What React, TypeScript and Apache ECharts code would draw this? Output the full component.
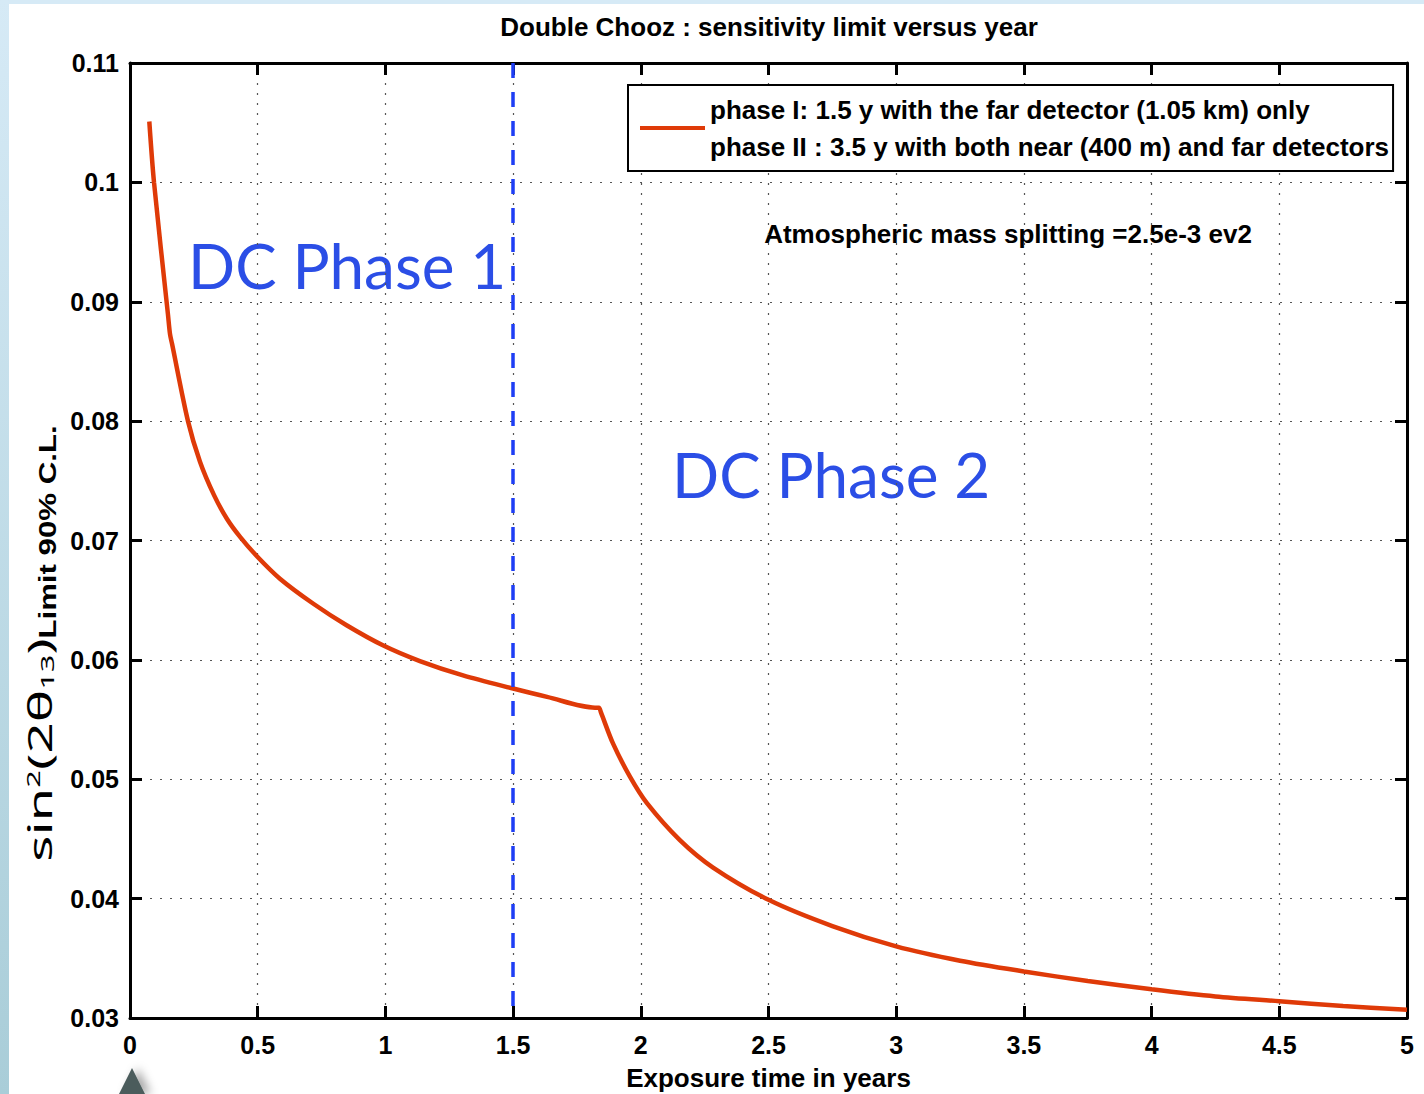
import React, { useEffect, useRef } from "react";
import * as echarts from "echarts";

// ---- data ----
const years = [
  0.0756, 0.094, 0.1488, 0.1566, 0.1644, 0.227, 0.274, 0.329, 0.38, 0.431, 0.496, 0.587,
  0.718, 0.848, 0.992, 1.135, 1.304, 1.5, 1.633, 1.8207, 1.836, 1.844, 1.891, 1.958, 2.024,
  2.153, 2.283, 2.5, 2.75, 3.0, 3.25, 3.5, 3.75, 4.0, 4.25, 4.5, 4.75, 5.0,
];
const limits = [
  0.1051, 0.1, 0.0889, 0.0873, 0.0865, 0.08, 0.0766, 0.0738, 0.0718, 0.0703, 0.0687, 0.0668,
  0.0647, 0.0629, 0.0612, 0.0599, 0.0587, 0.0576, 0.0569, 0.056, 0.056, 0.0556, 0.053, 0.0502,
  0.048, 0.0449, 0.0426, 0.0399, 0.0377, 0.036, 0.0348, 0.0339, 0.0331, 0.0324, 0.0318,
  0.0314, 0.031, 0.0307,
];
const phaseBoundary = 1.5;
const xMin = 0;
const xMax = 5;
const xStep = 0.5;
const yMin = 0.03;
const yMax = 0.11;
const yStep = 0.01;

const titleText = "Double Chooz : sensitivity limit versus year";
const legendLines = [
  "phase I: 1.5 y with the far detector (1.05 km) only",
  "phase II : 3.5 y with both near (400 m) and far detectors",
];
const seriesName = "sensitivity";
const annotationText = "Atmospheric mass splitting =2.5e-3 ev2";
const phaseLabels = ["DC Phase 1", "DC Phase 2"];
const xName = "Exposure time in years";
const yName = "Limit 90% C.L.";

const FONT = "'Liberation Sans', Arial, Helvetica, sans-serif";
const RED = "#df3a08";
const BLUE = "#2b4ee6";

export default function App() {
  const ref = useRef<HTMLDivElement>(null);

  useEffect(() => {
    document.body.style.margin = "0";
    const chart = echarts.init(ref.current!, null, { renderer: "svg" });

    const axisLine = { show: true, onZero: false, lineStyle: { color: "#000", width: 3 } };
    const axisTick = { show: true, inside: true, length: 12, lineStyle: { color: "#000", width: 3 } };
    const gridLine = { show: true, lineStyle: { color: "#555", width: 1.2, type: [2, 8] } };
    const labelStyle = { color: "#000", fontFamily: FONT, fontWeight: "bold", fontSize: 25 };

    const option: any = {
      animation: false,
      backgroundColor: "#fff",
      title: {
        text: titleText,
        left: 769,
        top: 14,
        padding: 0,
        textAlign: "center",
        textStyle: { fontFamily: FONT, fontWeight: "bold", fontSize: 26, color: "#000" },
      },
      grid: { left: 130, right: 17, top: 63, bottom: 76, containLabel: false, outerBoundsMode: "none" },
      legend: {
        left: 628,
        top: 85,
        orient: "vertical",
        data: [{ name: seriesName, icon: "rect" }],
        itemWidth: 65,
        itemHeight: 4,
        padding: [6, 4, 6, 12],
        borderColor: "#000",
        borderWidth: 2,
        backgroundColor: "#fff",
        selectedMode: false,
        formatter: () => legendLines.join("\n"),
        textStyle: { fontFamily: FONT, fontWeight: "bold", fontSize: 26, lineHeight: 37, color: "#000" },
      },
      xAxis: [
        {
          type: "value",
          position: "bottom",
          min: xMin,
          max: xMax,
          interval: xStep,
          axisLine,
          axisTick,
          splitLine: gridLine,
          axisLabel: { ...labelStyle, margin: 14 },
          name: xName,
          nameLocation: "middle",
          nameGap: 47,
          nameTextStyle: { ...labelStyle, fontSize: 26 },
        },
        {
          type: "value",
          position: "top",
          min: xMin,
          max: xMax,
          interval: xStep,
          axisLine,
          axisTick,
          splitLine: { show: false },
          axisLabel: { show: false },
        },
      ],
      yAxis: [
        {
          type: "value",
          position: "left",
          min: yMin,
          max: yMax,
          interval: yStep,
          axisLine,
          axisTick,
          splitLine: gridLine,
          axisLabel: { ...labelStyle, margin: 11 },
        },
        {
          type: "value",
          position: "right",
          min: yMin,
          max: yMax,
          interval: yStep,
          axisLine,
          axisTick,
          splitLine: { show: false },
          axisLabel: { show: false },
        },
      ],
      series: [
        {
          name: seriesName,
          type: "line",
          xAxisIndex: 0,
          yAxisIndex: 0,
          data: years.map((x, i) => [x, limits[i]]),
          showSymbol: false,
          symbol: "none",
          smooth: 0.3,
          lineStyle: { color: RED, width: 4.5 },
          itemStyle: { color: RED },
          z: 4,
          markLine: {
            silent: true,
            symbol: ["none", "none"],
            label: { show: false },
            lineStyle: { color: "#1e3ef5", width: 3.5, type: [15, 14] },
            data: [[{ coord: [phaseBoundary, yMax] }, { coord: [phaseBoundary, yMin] }]],
          },
        },
      ],
      graphic: [
        { type: "rect", shape: { x: 0, y: 0, width: 1424, height: 4 }, style: { fill: "#d6eaf6" } },
        {
          type: "rect",
          shape: { x: 0, y: 0, width: 9, height: 1094 },
          style: {
            fill: new echarts.graphic.LinearGradient(0, 0, 0, 1, [
              { offset: 0, color: "#d6eaf6" },
              { offset: 1, color: "#a9cdd8" },
            ]),
          },
        },
        {
          type: "polygon",
          shape: { points: [[132, 1068], [119, 1094], [145, 1094]] },
          style: { fill: "#4b5b5b", shadowBlur: 10, shadowColor: "rgba(0,0,0,0.35)", shadowOffsetX: 6 },
        },
        {
          type: "text",
          x: 48,
          y: 532,
          rotation: Math.PI / 2,
          scaleX: 1.3,
          style: {
            text: yName,
            fill: "#000",
            font: `bold 24px ${FONT}`,
            align: "center",
            verticalAlign: "middle",
          },
        },
        {
          type: "text",
          x: 40,
          y: 750,
          rotation: Math.PI / 2,
          scaleX: 1.71,
          style: {
            text: "sin{sup|2}(2θ{sub|13})",
            fill: "#000",
            fontFamily: "'Noto Sans', sans-serif",
            fontSize: 32,
            align: "center",
            verticalAlign: "middle",
            rich: {
              sup: { fontSize: 18, verticalAlign: "top", fontFamily: "'Noto Sans', sans-serif" },
              sub: { fontSize: 18, verticalAlign: "bottom", fontFamily: "'Noto Sans', sans-serif" },
            },
          },
        },
        {
          type: "text",
          x: 1008,
          y: 234,
          style: {
            text: annotationText,
            fill: "#000",
            font: `bold 26px ${FONT}`,
            align: "center",
            verticalAlign: "middle",
          },
        },
        {
          type: "text",
          x: 188,
          y: 265,
          style: {
            text: phaseLabels[0],
            fill: BLUE,
            font: `62px Lato, 'Noto Sans', sans-serif`,
            align: "left",
            verticalAlign: "middle",
          },
        },
        {
          type: "text",
          x: 672,
          y: 474,
          style: {
            text: phaseLabels[1],
            fill: BLUE,
            font: `62px Lato, 'Noto Sans', sans-serif`,
            align: "left",
            verticalAlign: "middle",
          },
        },
      ],
    };

    chart.setOption(option);
    return () => chart.dispose();
  }, []);

  return <div ref={ref} style={{ width: 1424, height: 1094 }} />;
}
